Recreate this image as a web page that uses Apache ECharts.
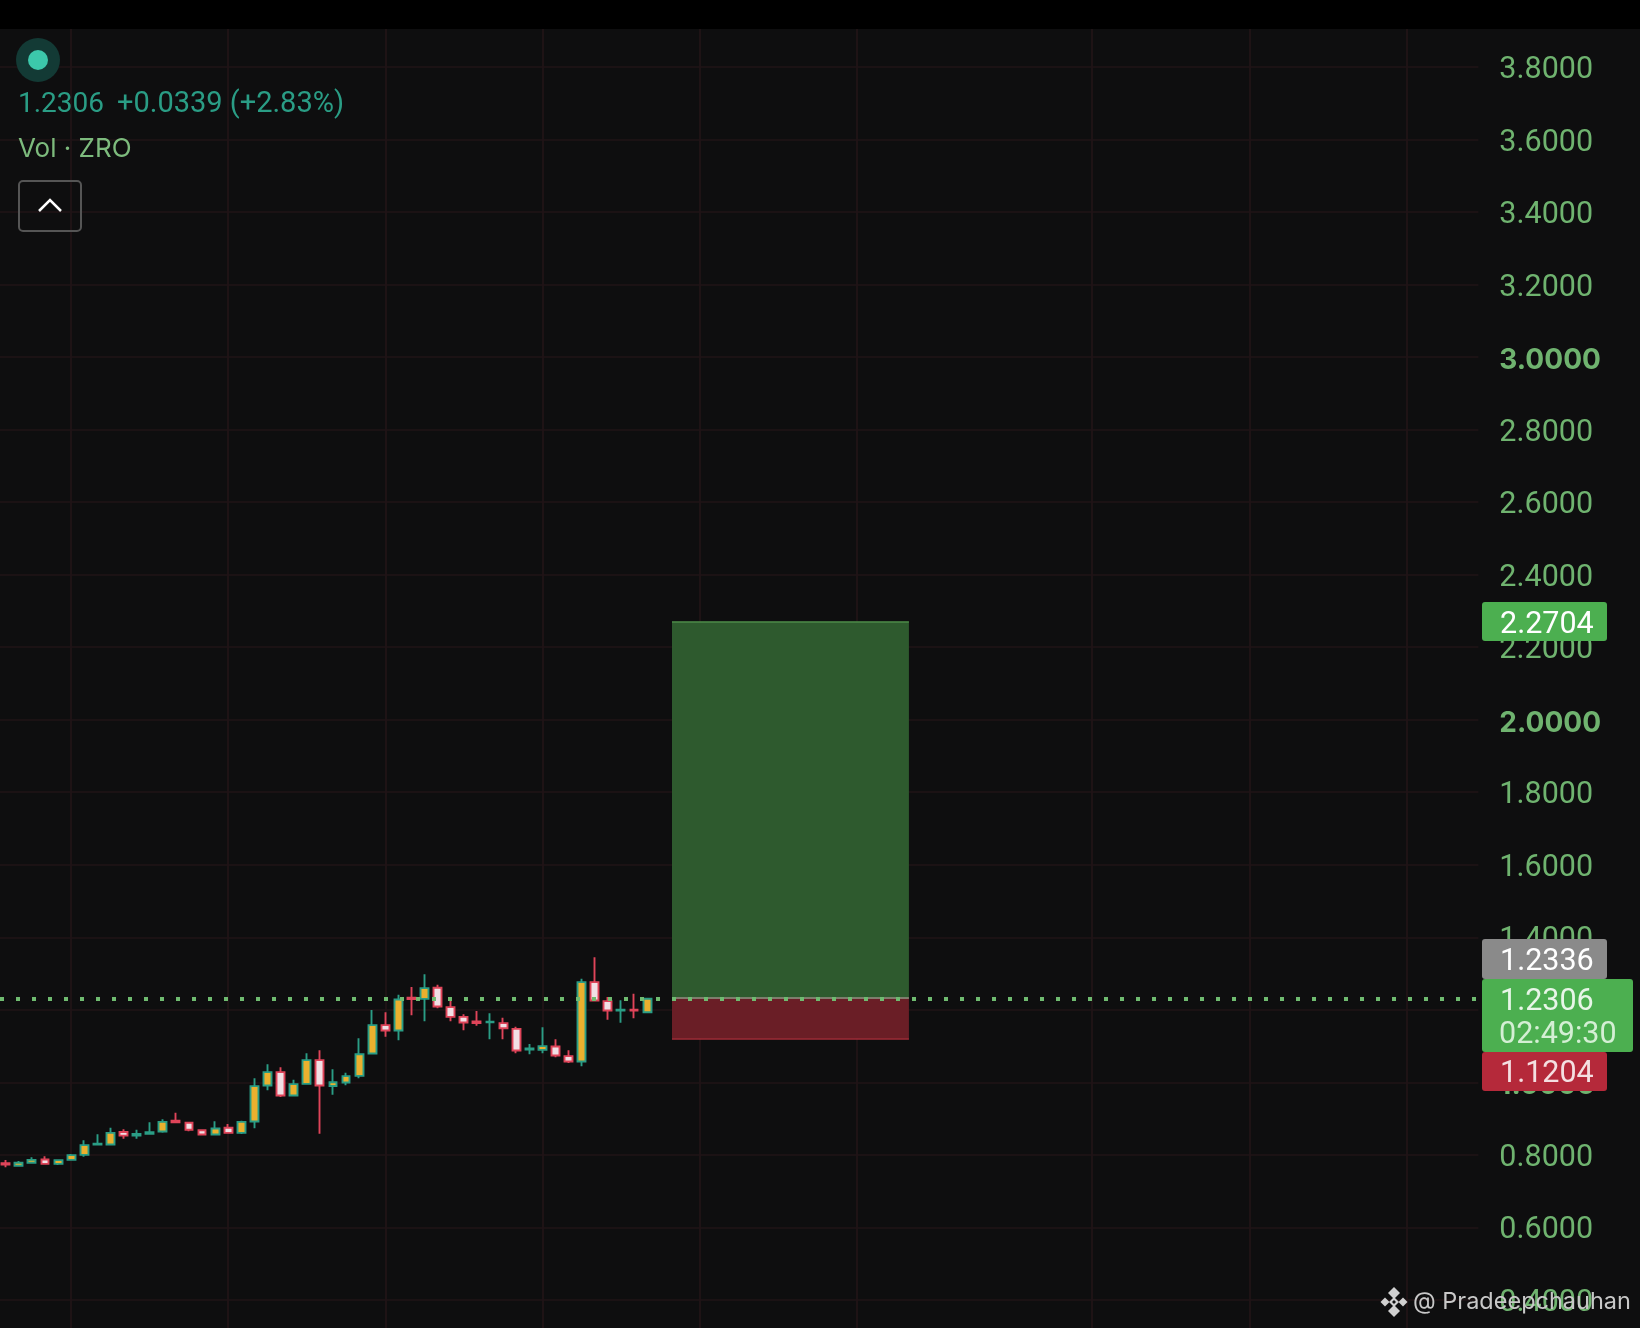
<!DOCTYPE html>
<html>
<head>
<meta charset="utf-8">
<style>html,body{margin:0;padding:0;background:#0e0e0f}#c{width:1640px;height:1328px}</style>
<script src="https://cdn.jsdelivr.net/npm/echarts@6/dist/echarts.min.js"></script>
</head>
<body>
<div id="c"></div>
<script>
const opens  = [.7770,.7697,.7780,.7871,.7752,.7862,.8000,.8281,.8285,.8630,.8533,.8579,.8644,.8942,.8883,.8680,.8561,.8745,.8607,.8919,.9912,1.0280,.9636,.9958,1.0611,.9898,.9995,1.0179,1.0795,1.1576,1.1429,1.2335,1.2302,1.2606,1.2073,1.1806,1.1682,1.1654,1.1631,1.1475,1.0901,1.0896,1.0988,1.0721,1.0574,1.2762,1.2238,1.1976,1.2004,1.1934];
const closes = [.7733,.7780,.7862,.7752,.7853,.7991,.8267,.8308,.8607,.8529,.8579,.8625,.8910,.8896,.8690,.8561,.8726,.8607,.8910,.9894,1.0280,.9636,.9949,1.0611,.9912,1.0000,1.0170,1.0776,1.1576,1.1429,1.2284,1.2298,1.2597,1.2091,1.1806,1.1650,1.1636,1.1673,1.1493,1.0878,1.0937,1.0997,1.0740,1.0574,1.2762,1.2256,1.1981,1.2004,1.1976,1.2306];
const lows   = [.7655,.7683,.7766,.7729,.7720,.7839,.7950,.8271,.8271,.8446,.8446,.8565,.8612,.8869,.8648,.8547,.8547,.8593,.8575,.8731,.9779,.9595,.9613,.9944,.8584,.9659,.9917,1.0110,1.0781,1.1259,1.1158,1.1847,1.1682,1.2040,1.1682,1.1434,1.1562,1.1185,1.1185,1.0799,1.0772,1.0799,1.0689,1.0533,1.0441,1.2243,1.1728,1.1645,1.1765,1.1902];
const highs  = [.7858,.7830,.7931,.7959,.7867,.8023,.8400,.8565,.8749,.8703,.8694,.8897,.8979,.9163,.8915,.8694,.8924,.8851,.8942,1.0110,1.0496,1.0413,1.0073,1.0799,1.0882,1.0358,1.0266,1.1213,1.1994,1.1930,1.2417,1.2629,1.2978,1.2693,1.2243,1.1875,1.1967,1.1903,1.1783,1.1535,1.1057,1.1516,1.1185,1.0882,1.2859,1.3447,1.2353,1.2261,1.2445,1.2316];
const slotCount = 113;
const categories = Array.from({length: slotCount}, (_, i) => String(i));
const timeGridSlots = [5, 17, 29, 41, 53, 65, 83, 95, 107];
const targetPrice = 2.2704, entryPrice = 1.2336, stopPrice = 1.1204, lastPrice = 1.2306;
const zoneStart = 50.9, zoneEnd = 69;
const boldTicks = ['1.0000', '2.0000', '3.0000'];

const FONT = 'Roboto';
const axisGreen = '#6fb36f';
const gridCol = '#211517';

function badge(x, y, w, h, fill, z) {
  return {type: 'rect', z, shape: {x, y, width: w, height: h, r: 3}, style: {fill}};
}
function txt(x, y, text, fill, size, z, family) {
  return {type: 'text', z: z || 60, x, y, style: {text, fill, font: `${size}px ${family || FONT}`, textVerticalAlign: 'middle'}};
}
function diamond(cx, cy, r, fill) {
  return {type: 'polygon', z: 70, shape: {points: [[cx, cy - r], [cx + r, cy], [cx, cy + r], [cx - r, cy]]}, style: {fill}};
}

const chart = echarts.init(document.getElementById('c'), null, {renderer: 'canvas'});
chart.setOption({
  animation: false,
  backgroundColor: '#0e0e0f',
  grid: {left: -0.85, top: -5.5, width: 1479.2, height: 1377.9, show: false, containLabel: false, outerBoundsMode: 'none'},
  tooltip: {show: false},
  legend: {show: false},
  xAxis: [
    {type: 'category', data: categories, boundaryGap: true, axisLine: {show: false}, axisTick: {show: false}, axisLabel: {show: false}, splitLine: {show: false}},
    {type: 'value', min: -0.5, max: slotCount - 0.5, show: false, splitLine: {show: false}}
  ],
  yAxis: {
    type: 'value', min: 0.2, max: 4.0, interval: 0.2, position: 'right', scale: false,
    axisLine: {show: false}, axisTick: {show: false},
    splitLine: {show: true, lineStyle: {color: gridCol, width: 1.5}},
    axisLabel: {
      show: true, margin: 21, color: axisGreen, fontFamily: FONT, fontSize: 30.5, align: 'left', padding: [7, 0, 0, 0],
      formatter: v => {
        if (v < 0.3 || v > 3.9) return '';
        const s = v.toFixed(4);
        return boldTicks.includes(s) ? `{b|${s}}` : s;
      },
      rich: {b: {fontWeight: 700, color: axisGreen, fontFamily: 'Inter', fontSize: 28}}
    }
  },
  series: [
    {
      name: 'timeGrid', type: 'line', data: [], z: 1, silent: true,
      markLine: {z: 1, silent: true, symbol: 'none', animation: false, label: {show: false}, lineStyle: {color: gridCol, width: 1.8, type: 'solid'},
        data: timeGridSlots.map(i => ({xAxis: String(i)}))}
    },
    {
      name: 'zones', type: 'line', xAxisIndex: 1, data: [], z: 3, silent: true,
      markArea: {z: 2, silent: true, animation: false, label: {show: false}, data: [
        [{yAxis: targetPrice, xAxis: zoneStart, itemStyle: {color: '#2e5a2e', opacity: 1}}, {yAxis: entryPrice, xAxis: zoneEnd}],
        [{yAxis: entryPrice, xAxis: zoneStart, itemStyle: {color: '#6a1e26', opacity: 1}}, {yAxis: stopPrice, xAxis: zoneEnd}]
      ]},
      markLine: {z: 3, silent: true, symbol: 'none', animation: false, label: {show: false}, data: [
        [{coord: [zoneStart, targetPrice], lineStyle: {color: '#4c8a48', width: 1.5, type: 'solid'}}, {coord: [zoneEnd, targetPrice]}],
        [{coord: [zoneStart, entryPrice], lineStyle: {color: '#8d9c86', width: 1.5, type: 'solid'}}, {coord: [zoneEnd, entryPrice]}],
        [{coord: [zoneStart, stopPrice], lineStyle: {color: '#a22c38', width: 1.5, type: 'solid'}}, {coord: [zoneEnd, stopPrice]}]
      ]}
    },
    {
      name: 'ZRO', type: 'candlestick', z: 5, barWidth: 8.4,
      data: opens.map((o, i) => [o, closes[i], lows[i], highs[i]]),
      itemStyle: {color: '#ebb02e', color0: '#f1e0e5', borderColor: '#2a9d85', borderColor0: '#df4459', borderWidth: 1.9}
    },
    {
      name: 'last', type: 'line', data: [], z: 6, silent: true,
      markLine: {z: 6, silent: true, symbol: 'none', animation: false, label: {show: false},
        lineStyle: {color: '#6fbb70', width: 4, type: [4, 12], dashOffset: -0.85, opacity: 1},
        data: [{yAxis: lastPrice}]}
    }
  ],
  graphic: {elements: [
    {type: 'rect', z: 50, shape: {x: 0, y: 0, width: 1640, height: 29}, style: {fill: '#000'}},
    {type: 'circle', z: 60, shape: {cx: 38, cy: 60, r: 22}, style: {fill: '#133a35'}},
    {type: 'circle', z: 61, shape: {cx: 38, cy: 60, r: 10}, style: {fill: '#3cc8ab'}},
    txt(18, 104.5, '1.2306', '#2a9d85', 28),
    txt(117, 104.5, '+0.0339 (+2.83%)', '#2a9d85', 29),
    txt(18, 149, 'Vol · ZRO', '#7dbb7d', 26, 60, 'Inter'),
    {type: 'rect', z: 60, shape: {x: 19, y: 181, width: 62, height: 50, r: 4}, style: {fill: 'transparent', stroke: '#555', lineWidth: 2}},
    {type: 'polyline', z: 61, shape: {points: [[39, 211], [50, 200], [61, 211]]}, style: {stroke: '#fff', lineWidth: 2.5, fill: 'none'}},

    badge(1482, 602, 125, 39, '#4caf50', 60),
    txt(1500, 625, '2.2704', '#fff', 30.5, 61),
    badge(1482, 939, 125, 40, '#8a8a8a', 60),
    txt(1500, 962, '1.2336', '#fff', 30.5, 61),
    badge(1482, 1052, 125, 39, '#b5293a', 60),
    txt(1500, 1074, '1.1204', '#f4dfe1', 30.5, 61),
    badge(1482, 979, 151, 73, '#4caf50', 62),
    txt(1500, 1002, '1.2306', '#e8f6e8', 30.5, 63),
    txt(1499, 1035, '02:49:30', '#d4efd4', 30.5, 63),

    diamond(1394, 1293, 6, '#d0d0d0'),
    diamond(1394, 1311, 6, '#d0d0d0'),
    diamond(1385, 1302, 4.5, '#d0d0d0'),
    diamond(1403, 1302, 4.5, '#d0d0d0'),
    diamond(1394, 1302, 5, '#d0d0d0'),
    diamond(1394, 1302, 2, '#0e0e0f'),
    txt(1413, 1302, '@ Pradeepchauhan', '#c8c8c8', 23.5, 70, 'Inter')
  ]}
});
</script>
</body>
</html>
